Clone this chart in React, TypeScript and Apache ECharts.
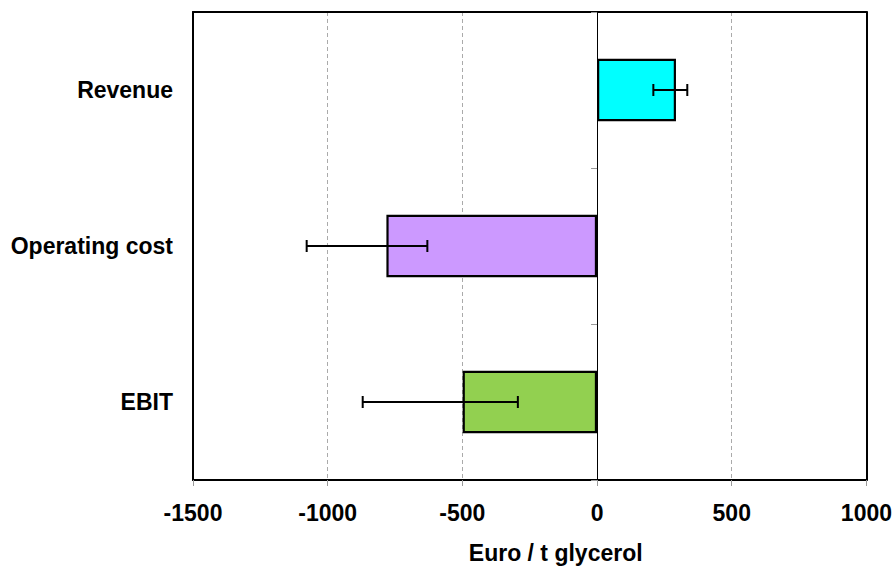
import React, { useEffect, useRef } from "react";
import * as echarts from "echarts";

const categories = ["Revenue", "Operating cost", "EBIT"];
const values = [293, -782, -499];
const errLow = [209, -1078, -870];
const errHigh = [335, -630, -294];
const barColors = ["#00FFFF", "#CC99FF", "#92D050"];
const xTicks = { min: -1500, max: 1000, interval: 500 };
const xName = "Euro / t glycerol";

const FONT = "'Liberation Sans', Arial, Helvetica, sans-serif";
const FS = 23;

export default function App() {
  const ref = useRef<HTMLDivElement>(null);
  useEffect(() => {
    document.body.style.margin = "0";
    if (!ref.current) return;
    const chart = echarts.init(ref.current, undefined, { renderer: "svg" });
    const errData = categories.map((_, i) => [i, errLow[i], errHigh[i]]);
    chart.setOption({
      animation: false,
      backgroundColor: "#ffffff",
      grid: { left: 193, right: 28, top: 12, bottom: 86, containLabel: false },
      xAxis: [
        {
          type: "value",
          position: "bottom",
          min: xTicks.min,
          max: xTicks.max,
          interval: xTicks.interval,
          axisLine: { show: true, onZero: false, lineStyle: { color: "#000", width: 2 } },
          axisTick: { show: true, length: 6, lineStyle: { color: "#999", width: 1 } },
          axisLabel: {
            color: "#000",
            fontFamily: FONT,
            fontWeight: "bold",
            fontSize: FS,
            margin: 21,
            formatter: (v: number) => String(v),
          },
          splitLine: { show: true, lineStyle: { color: "#aaa", type: [4, 3], width: 1 } },
          name: xName,
          nameLocation: "middle",
          nameGap: 61,
          nameTextStyle: {
            color: "#000",
            fontFamily: FONT,
            fontWeight: "bold",
            fontSize: FS,
            padding: [0, 0, 0, 52],
          },
        },
        {
          type: "value",
          position: "top",
          min: xTicks.min,
          max: xTicks.max,
          interval: xTicks.interval,
          axisLine: { show: true, onZero: false, lineStyle: { color: "#000", width: 2 } },
          axisTick: { show: false },
          axisLabel: { show: false },
          splitLine: { show: false },
        },
      ],
      yAxis: [
        {
          type: "category",
          data: categories,
          inverse: true,
          position: "left",
          axisLine: { show: true, onZero: false, lineStyle: { color: "#000", width: 2 } },
          axisTick: { show: false },
          axisLabel: {
            color: "#000",
            fontFamily: FONT,
            fontWeight: "bold",
            fontSize: FS,
            margin: 20,
          },
        },
        {
          type: "category",
          data: categories,
          inverse: true,
          position: "right",
          axisLine: { show: true, onZero: false, lineStyle: { color: "#000", width: 2 } },
          axisTick: { show: false },
          axisLabel: { show: false },
        },
        {
          type: "category",
          data: categories,
          inverse: true,
          position: "left",
          axisLine: { show: true, onZero: true, onZeroAxisIndex: 0, lineStyle: { color: "#000", width: 1 } },
          axisTick: { show: true, length: 6, lineStyle: { color: "#999", width: 1 } },
          axisLabel: { show: false },
        },
      ],
      series: [
        {
          type: "bar",
          xAxisIndex: 0,
          yAxisIndex: 0,
          barWidth: "40%",
          data: values.map((v, i) => ({
            value: v,
            itemStyle: { color: barColors[i], borderColor: "#000", borderWidth: 2.2 },
          })),
          z: 3,
        },
        {
          type: "custom",
          xAxisIndex: 0,
          yAxisIndex: 0,
          z: 5,
          data: errData,
          renderItem: (params: any, api: any) => {
            const idx = api.value(0);
            const lo = api.coord([api.value(1), idx]);
            const hi = api.coord([api.value(2), idx]);
            const h = 6;
            const style = { stroke: "#000", lineWidth: 2 };
            return {
              type: "group",
              children: [
                { type: "line", shape: { x1: lo[0], y1: lo[1], x2: hi[0], y2: hi[1] }, style },
                { type: "line", shape: { x1: lo[0], y1: lo[1] - h, x2: lo[0], y2: lo[1] + h }, style },
                { type: "line", shape: { x1: hi[0], y1: hi[1] - h, x2: hi[0], y2: hi[1] + h }, style },
              ],
            };
          },
        },
      ],
    });
    return () => chart.dispose();
  }, []);
  return <div ref={ref} style={{ width: 895, height: 569 }} />;
}
